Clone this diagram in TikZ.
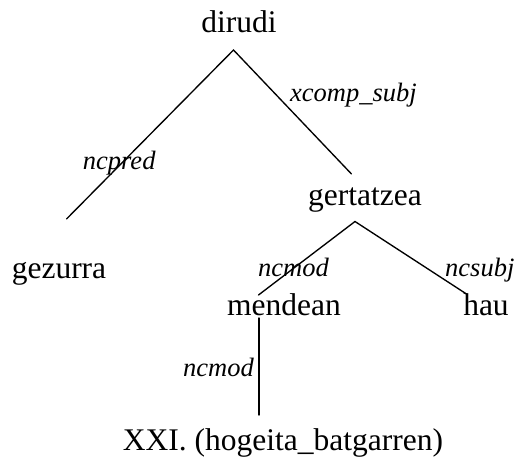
\documentclass[tikz,border=0pt]{standalone}
\usepackage{fontspec}
\setmainfont{Liberation Serif}
\begin{document}
\begin{tikzpicture}[x=1pt,y=-1pt,
  word/.style={anchor=base,inner sep=0pt,font=\fontsize{31.5}{36}\selectfont},
  rel/.style={anchor=base west,inner sep=0pt,font=\fontsize{26.5}{30}\selectfont\itshape},
  edge/.style={line width=1.35pt,line cap=round}]
  \useasboundingbox (0,0) rectangle (515,461);

  % words of the sentence
  \node[word] (dirudi)    at (239,32)  {dirudi};
  \node[word] (gezurra)   at (59,278)  {gezurra};
  \node[word] (gertatzea) at (365,205) {gertatzea};
  \node[word] (mendean)   at (284,315) {mendean};
  \node[word] (hau)       at (486,315) {hau};
  \node[word] (xxi)       at (283,450) {XXI. (hogeita\_batgarren)};

  % branch points of the dependency tree
  \coordinate (dirudiTop)    at (233.5,50);
  \coordinate (gezurraEnd)   at (66.5,219);
  \coordinate (gertatzeaEnd) at (351.5,174);
  \coordinate (gertatzeaTop) at (355,221.5);
  \coordinate (mendeanEnd)   at (258.5,295);
  \coordinate (hauEnd)       at (466.5,294);
  \coordinate (mendeanTop)   at (259,318);
  \coordinate (xxiEnd)       at (259,415);

  \draw[edge] (gezurraEnd) -- (dirudiTop) -- (gertatzeaEnd);
  \draw[edge] (mendeanEnd) -- (gertatzeaTop) -- (hauEnd);
  \draw[edge] (mendeanTop) -- (xxiEnd);

  % relation labels
  \node[rel] (lxcomp)  at (290,101.7) {xcomp\_subj};
  \node[rel] (lncpred) at (82.7,169)  {ncpred};
  \node[rel] (lncmodA) at (258,276)   {ncmod};
  \node[rel] (lncsubj) at (445,276)   {ncsubj};
  \node[rel] (lncmodB) at (183,376.7) {ncmod};
\end{tikzpicture}
\end{document}
